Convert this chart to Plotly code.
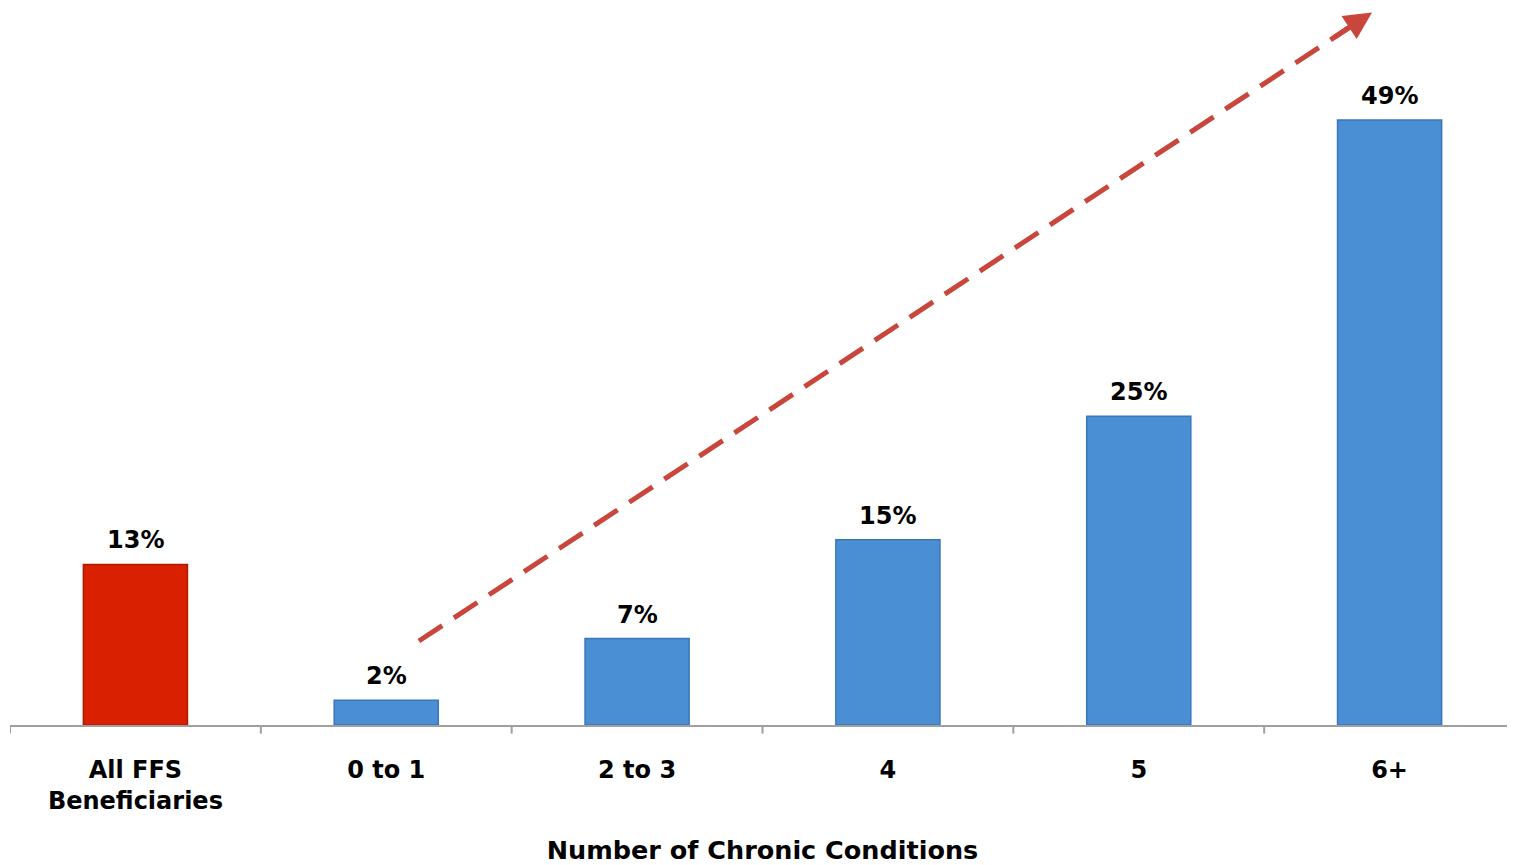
import plotly.graph_objects as go

categories = ["All FFS<br>Beneficiaries", "0 to 1", "2 to 3", "4", "5", "6+"]
values = [13, 2, 7, 15, 25, 49]
labels = ["13%", "2%", "7%", "15%", "25%", "49%"]
colors = ["#d92000", "#4a8ed4", "#4a8ed4", "#4a8ed4", "#4a8ed4", "#4a8ed4"]
edge_colors = ["#b01800", "#3a76b8", "#3a76b8", "#3a76b8", "#3a76b8", "#3a76b8"]

# trend arrow (category index, value units)
arrow_x = [1.13, 4.93]
arrow_y = [6.8, 57.7]

FONT = "DejaVu Sans"

fig = go.Figure()
fig.add_trace(go.Bar(
    x=list(range(len(categories))), y=values,
    width=0.415,
    marker=dict(color=colors, line=dict(color=edge_colors, width=1.5)),
    hoverinfo="skip",
))
for i, (v, t) in enumerate(zip(values, labels)):
    fig.add_annotation(x=i, y=v, text=t, showarrow=False, yanchor="bottom",
                       yshift=8, font=dict(family=FONT, size=24, color="black", weight="bold"))

# dashed shaft of arrow, stopping short of head
fx = arrow_x[0] + (arrow_x[1] - arrow_x[0]) * 0.975
fy = arrow_y[0] + (arrow_y[1] - arrow_y[0]) * 0.975
fig.add_trace(go.Scatter(
    x=[arrow_x[0], fx], y=[arrow_y[0], fy], mode="lines",
    line=dict(color="#c9463d", width=5, dash="28px,14px"),
    hoverinfo="skip", showlegend=False, cliponaxis=False,
))
hx = arrow_x[0] + (arrow_x[1] - arrow_x[0]) * 0.96
hy = arrow_y[0] + (arrow_y[1] - arrow_y[0]) * 0.96
fig.add_annotation(
    x=arrow_x[1], y=arrow_y[1], ax=hx, ay=hy,
    xref="x", yref="y", axref="x", ayref="y",
    showarrow=True, arrowhead=2, arrowsize=1.1, arrowwidth=5,
    arrowcolor="#c9463d", text="",
)

fig.update_layout(
    width=1507, height=857,
    margin=dict(l=2, r=0, t=0, b=140),
    paper_bgcolor="white", plot_bgcolor="white",
    showlegend=False,
    xaxis=dict(
        tickmode="array", tickvals=list(range(len(categories))), ticktext=categories,
        range=[-0.5, len(categories) - 0.5], automargin=False,
        showline=True, linecolor="#a0a0a0", linewidth=2,
        ticks="", showgrid=False, zeroline=False, ticklabelstandoff=22,
        tickfont=dict(family=FONT, size=24, color="black", weight="bold"),
        title=dict(text="Number of Chronic Conditions",
                   font=dict(family=FONT, size=25.5, color="black", weight="bold"),
                   standoff=41),
    ),
    yaxis=dict(range=[0, 58.06], visible=False, automargin=False),
)

# boundary tick marks
for b in [i - 0.5 for i in range(len(categories) + 1)]:
    fig.add_shape(type="line", xref="x", yref="paper", x0=b, x1=b, y0=0, y1=-0.012,
                  line=dict(color="#a0a0a0", width=2))

fig.write_html("out.html")
